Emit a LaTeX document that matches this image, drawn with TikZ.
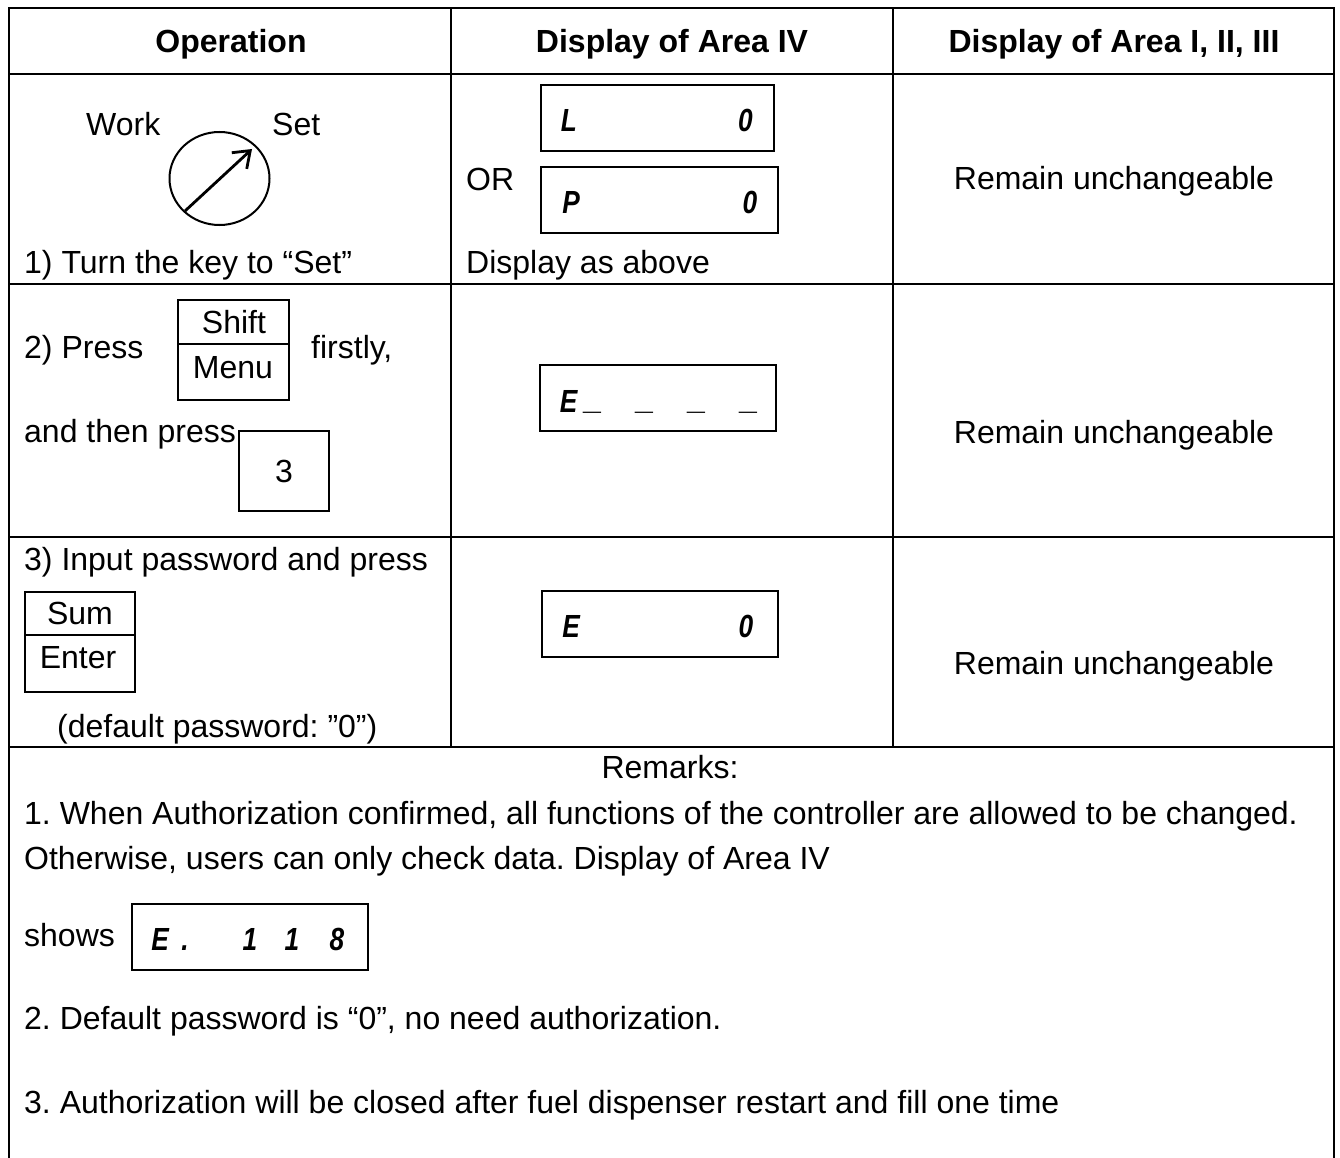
\documentclass[tikz,border=0pt]{standalone}
\usepackage{fontspec}
\setmainfont{Liberation Sans}
\usetikzlibrary{arrows.meta}
\frenchspacing
\tikzset{
  x=1pt,y=-1pt,
  rule/.style={line width=2.4pt,black},
  box/.style={line width=2pt,black},
  txt/.style={anchor=base west,inner sep=0pt,font=\fontsize{32}{36}\selectfont},
  ctr/.style={anchor=base,inner sep=0pt,font=\fontsize{32}{36}\selectfont},
  hdr/.style={anchor=base,inner sep=0pt,font=\fontsize{32}{36}\selectfont\bfseries},
  seg/.style={anchor=base,inner sep=0pt,xscale=0.82,transform shape,font=\fontsize{32}{36}\selectfont\bfseries\itshape},
  dashseg/.style={anchor=base,inner sep=0pt,font=\fontsize{32}{36}\selectfont\bfseries},
}
\begin{document}
\begin{tikzpicture}
\useasboundingbox (0,0) rectangle (1340,1158);
\fill[white] (0,0) rectangle (1340,1158);
% table
\draw[rule] (9,1158) -- (9,8) -- (1334,8) -- (1334,1158);
\draw[rule] (9,74) -- (1334,74);
\draw[rule] (9,284) -- (1334,284);
\draw[rule] (9,537) -- (1334,537);
\draw[rule] (9,747) -- (1334,747);
\draw[rule] (451,8) -- (451,747);
\draw[rule] (893,8) -- (893,747);
% headers
\node[hdr] (h1) at (231,53) {Operation};
\node[hdr] (h2) at (672,53) {Display of Area IV};
\node[hdr] (h3) at (1114,53) {Display of Area I, II, III};
% row 1
\node[txt] (work) at (86,136) {Work};
\node[txt] (set) at (272,136) {Set};
\draw[line width=2pt] (219.5,178.5) ellipse (50 and 46.5);
\coordinate (kb) at (185,211);
\coordinate (kt) at (252,149);
\draw[line width=2.8pt,-{Straight Barb[length=15pt,width=22pt]}] (kb) -- (kt);
\node[txt] (t1) at (24,273) {1) Turn the key to “Set”};
\draw[box] (541,85) rectangle (774,151);
\node[seg] (l1) at (569,132) {L};
\node[seg] (l2) at (745.5,132) {0};
\node[txt] (or) at (466,191) {OR};
\draw[box] (541,167.5) rectangle (778,233);
\node[seg] (p1) at (571,214) {P};
\node[seg] (p2) at (750,214) {0};
\node[txt] (t2) at (466,273) {Display as above};
\node[ctr] (r1) at (1114,190) {Remain unchangeable};
% row 2
\node[txt] (t3) at (24,358) {2) Press};
\draw[box] (178,300) rectangle (289,399.5);
\draw[box] (178,343.5) -- (289,343.5);
\node[ctr] (shift) at (234,333) {Shift};
\node[ctr] (menu) at (233,378) {Menu};
\node[txt] (t4) at (311,358) {firstly,};
\node[txt] (t5) at (24,442) {and then press};
\draw[box] (239,431) rectangle (329,511);
\node[ctr] (three) at (284,482) {3};
\draw[box] (540,365) rectangle (776,431);
\node[seg] (e1) at (568.5,412) {E};
\node[dashseg] (d1) at (592,409) {\_};
\node[dashseg] (d2) at (644,409) {\_};
\node[dashseg] (d3) at (696,409) {\_};
\node[dashseg] (d4) at (748,409) {\_};
\node[ctr] (r2) at (1114,443) {Remain unchangeable};
% row 3
\node[txt] (t6) at (24,570) {3) Input password and press};
\draw[box] (25,592) rectangle (135,692);
\draw[box] (25,635) -- (135,635);
\node[ctr] (sum) at (80,624) {Sum};
\node[ctr] (enter) at (78,668) {Enter};
\node[txt] (t7) at (57,737) {(default password: \char34 0\char34 )};
\draw[box] (542,591) rectangle (778,657);
\node[seg] (e2) at (571,637) {E};
\node[seg] (e3) at (746,637) {0};
\node[ctr] (r3) at (1114,674) {Remain unchangeable};
% remarks
\node[ctr] (rem) at (670,778) {Remarks:};
\node[txt] (n1) at (24,824) {1. When Authorization confirmed, all functions of the controller are allowed to be changed.};
\node[txt] (n2) at (24,869) {Otherwise, users can only check data. Display of Area IV};
\node[txt] (sh) at (24,946) {shows};
\draw[box] (131.5,904) rectangle (368,970);
\node[seg] (x1) at (160,950) {E};
\node[seg] (x2) at (185,950) {.};
\node[seg] (x3) at (250,950) {1};
\node[seg] (x4) at (292,950) {1};
\node[seg] (x5) at (337,950) {8};
\node[txt] (n3) at (24,1029) {2. Default password is “0”, no need authorization.};
\node[txt] (n4) at (24,1113) {3. Authorization will be closed after fuel dispenser restart and fill one time};
\end{tikzpicture}
\end{document}
